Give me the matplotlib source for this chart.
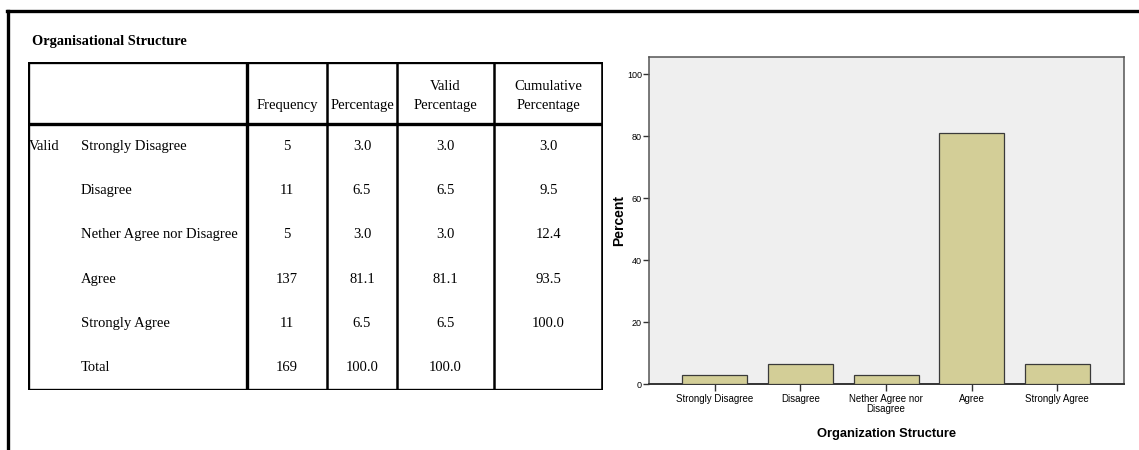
import matplotlib.pyplot as plt
from matplotlib.lines import Line2D

categories = ["Strongly Disagree", "Disagree", "Nether Agree nor Disagree", "Agree", "Strongly Agree"]
frequency = [5, 11, 5, 137, 11]
percentage = [3.0, 6.5, 3.0, 81.1, 6.5]
valid_pct = [3.0, 6.5, 3.0, 81.1, 6.5]
cumulative = [3.0, 9.5, 12.4, 93.5, 100.0]
total_row = ["169", "100.0", "100.0", ""]
bar_labels = ["Strongly Disagree", "Disagree", "Nether Agree nor\nDisagree", "Agree", "Strongly Agree"]
headers = ["Frequency", "Percentage", "Valid\nPercentage", "Cumulative\nPercentage"]

W, H = 1139, 450
fig = plt.figure(figsize=(W / 100, H / 100), dpi=100)
fig.patch.set_facecolor("white")

# outer frame (top + left only visible)
fig.add_artist(Line2D([7 / W, 1.0], [1 - 11 / H, 1 - 11 / H], transform=fig.transFigure, color="black", lw=2.4))
fig.add_artist(Line2D([8 / W, 8 / W], [1 - 11 / H, 0], transform=fig.transFigure, color="black", lw=2.4))

fig.text(32 / W, 1 - 41 / H, "Organisational Structure", fontsize=10.4, fontweight="bold",
         family="Liberation Serif", va="center", ha="left")

# ---- table ----
tx0, tx1, ty0, ty1 = 28, 603, 62, 390
ax_t = fig.add_axes([tx0 / W, 1 - ty1 / H, (tx1 - tx0) / W, (ty1 - ty0) / H])
ax_t.set_xlim(0, tx1 - tx0)
ax_t.set_ylim(ty1 - ty0, 0)
ax_t.axis("off")

col_edges = [0, 219, 299, 369, 466, 575]
head_h = 62
row_h = (ty1 - ty0 - head_h) / 6
serif = "Liberation Serif"
fs = 10.5

# borders
for x, lw in zip(col_edges, [2.4, 2.4, 1.8, 1.8, 1.8, 2.6]):
    ax_t.plot([x, x], [0, ty1 - ty0], color="black", lw=lw, solid_capstyle="projecting")
ax_t.plot([0, 575], [0, 0], color="black", lw=2.4, solid_capstyle="projecting")
ax_t.plot([0, 575], [head_h, head_h], color="black", lw=2.4)
ax_t.plot([0, 575], [ty1 - ty0, ty1 - ty0], color="black", lw=2.4, solid_capstyle="projecting")

centers = [(col_edges[i] + col_edges[i + 1]) / 2 for i in range(1, 5)]
for cx, h in zip(centers, headers):
    ax_t.text(cx, 50, h, ha="center", va="bottom", fontsize=fs, family=serif, linespacing=1.55)

rows = []
for i in range(len(categories)):
    rows.append([categories[i], str(frequency[i]), f"{percentage[i]:.1f}",
                 f"{valid_pct[i]:.1f}", f"{cumulative[i]:.1f}"])
rows.append(["Total"] + total_row)

for r, row in enumerate(rows):
    cy = head_h + row_h * (r + 0.5)
    if r == 0:
        ax_t.text(1, cy, "Valid", ha="left", va="center", fontsize=fs, family=serif)
    ax_t.text(53, cy, row[0], ha="left", va="center", fontsize=fs, family=serif)
    for cx, val in zip(centers, row[1:]):
        ax_t.text(cx, cy, val, ha="center", va="center", fontsize=fs, family=serif)

# ---- bar chart ----
ax = fig.add_axes([649 / W, 1 - 384 / H, (1124 - 649) / W, (384 - 57) / H])
ax.set_facecolor("#efefef")
x = range(len(percentage))
ax.bar(x, percentage, width=0.76, color="#d3ce97", edgecolor="#3a3a3a", linewidth=0.9, zorder=3)
ax.set_xlim(-0.77, 4.78)
ax.set_ylim(0, 105.5)
ax.set_yticks([0, 20, 40, 60, 80, 100])
ax.set_xticks(list(x))
ax.set_xticklabels(bar_labels, fontsize=7, family="Liberation Sans", linespacing=1.0)
ax.tick_params(axis="y", labelsize=6.5, length=4, width=1, color="#333333", pad=1)
ax.tick_params(axis="x", length=5, width=1, color="#333333", pad=2)
for lab in ax.get_yticklabels():
    lab.set_family("Liberation Sans")
for s in ax.spines.values():
    s.set_color("#555555")
    s.set_linewidth(1.1)
ax.spines["bottom"].set_color("#333333")
ax.spines["bottom"].set_linewidth(1.4)
ax.set_ylabel("Percent", fontsize=10, fontweight="bold", family="Liberation Sans", labelpad=1)
ax.set_xlabel("Organization Structure", fontsize=9.3, fontweight="bold", family="Liberation Sans", labelpad=10)

fig.savefig("out.png", dpi=100)
